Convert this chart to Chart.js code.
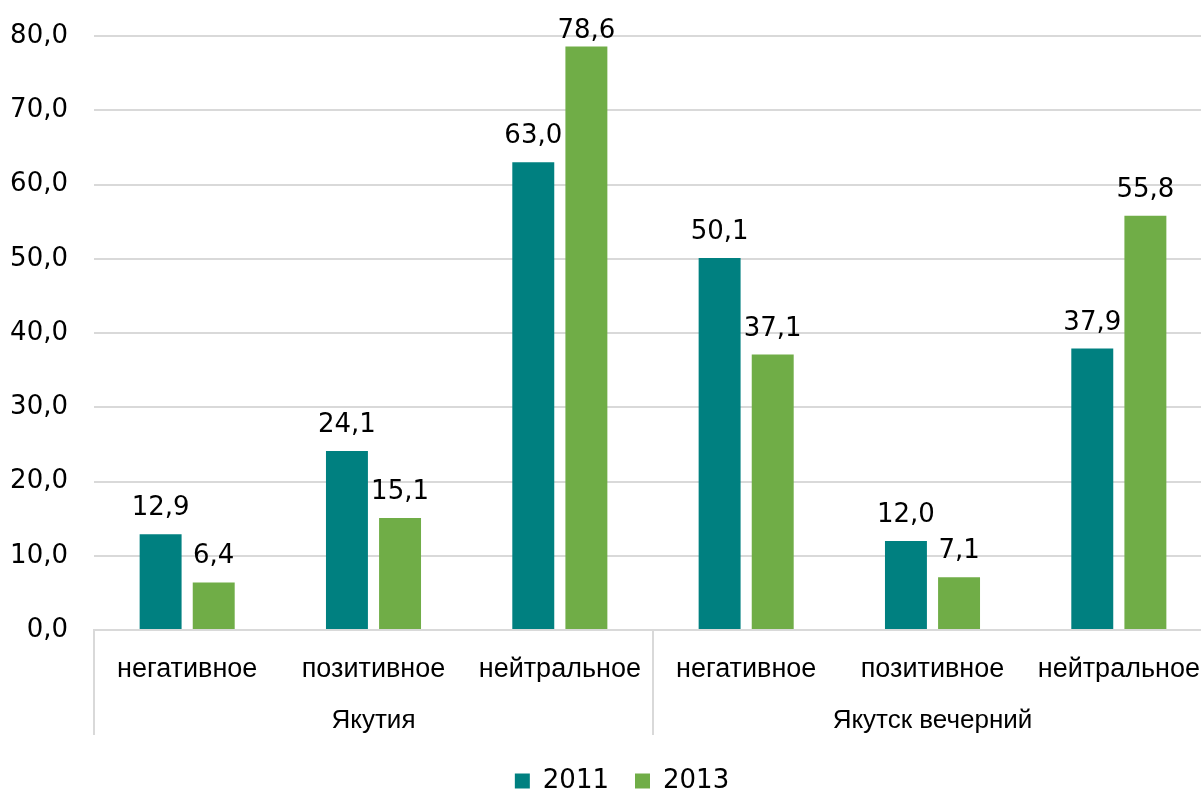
<!DOCTYPE html>
<html>
<head>
<meta charset="utf-8">
<script src="https://cdn.jsdelivr.net/npm/chart.js@4.4.0/dist/chart.umd.min.js"></script>
<style>
  html, body { margin: 0; padding: 0; background: #fff; overflow: hidden; }
  #wrap { width: 1201px; height: 791px; overflow: hidden; }
</style>
</head>
<body>
<div id="wrap"><canvas id="myBarChart" width="1212" height="804"></canvas></div>
<script>
var categories = ['негативное', 'позитивное', 'нейтральное', 'негативное', 'позитивное', 'нейтральное'];
var groups = ['Якутия', 'Якутск вечерний'];
var groupSize = 3;
var values2011 = [12.9, 24.1, 63.0, 50.1, 12.0, 37.9];
var values2013 = [6.4, 15.1, 78.6, 37.1, 7.1, 55.8];
var seriesNames = ['2011', '2013'];

var numFont = 'DejaVu Sans';
var catFont = 'Liberation Sans';
var gridColor = '#d9d9d9';

function fmt(v) {
    return v.toFixed(1).replace('.', ',');
}

function noPad(scale) {
    scale.paddingTop = 0;
    scale.paddingBottom = 0;
    scale.paddingLeft = 0;
    scale.paddingRight = 0;
}

// value labels over the bars (kept inside the plot at the top)
var barLabels = {
    id: 'barLabels',
    afterDatasetsDraw: function(chart) {
        var ctx = chart.ctx;
        ctx.save();
        ctx.font = '26px "' + numFont + '"';
        ctx.fillStyle = '#000';
        ctx.textAlign = 'center';
        ctx.textBaseline = 'alphabetic';
        chart.data.datasets.forEach(function(ds, i) {
            chart.getDatasetMeta(i).data.forEach(function(bar, j) {
                var y = Math.max(bar.y - 19, chart.chartArea.top + 2);
                ctx.fillText(fmt(ds.data[j]), bar.x, y);
            });
        });
        ctx.restore();
    }
};

// vertical separators between the groups
var groupLines = {
    id: 'groupLines',
    afterDraw: function(chart) {
        var x = chart.scales.x;
        var ctx = chart.ctx;
        ctx.save();
        ctx.strokeStyle = gridColor;
        ctx.lineWidth = 2;
        for (var g = 0; g <= groups.length; g++) {
            var px = Math.round(x.getPixelForValue(g * groupSize - 0.5));
            ctx.beginPath();
            ctx.moveTo(px, chart.chartArea.bottom);
            ctx.lineTo(px, chart.chartArea.bottom + 105);
            ctx.stroke();
        }
        ctx.restore();
    }
};

// legend sits a bit right of the canvas centre
var legendShift = {
    id: 'legendShift',
    afterLayout: function(chart) {
        chart.legend.left += 16;
        chart.legend.right += 16;
    }
};

var ctx = document.getElementById('myBarChart');
var myBarChart = new Chart(ctx, {
    type: 'bar',
    data: {
        labels: categories,
        datasets: [{
            label: seriesNames[0],
            data: values2011,
            backgroundColor: '#008080'
        }, {
            label: seriesNames[1],
            data: values2013,
            backgroundColor: '#70ad47'
        }]
    },
    options: {
        responsive: false,
        animation: false,
        categoryPercentage: 0.57,
        barPercentage: 0.79,
        layout: { padding: { top: 36, left: 0, right: 0, bottom: 0 } },
        plugins: {
            tooltip: { enabled: false },
            legend: {
                position: 'bottom',
                labels: {
                    boxWidth: 15,
                    boxHeight: 15,
                    padding: 26,
                    color: '#000',
                    font: { family: numFont, size: 26 }
                }
            }
        },
        scales: {
            x: {
                afterFit: function(scale) { scale.height = 52; noPad(scale); },
                grid: { display: false },
                border: { display: true, color: gridColor, width: 2 },
                ticks: {
                    color: '#000',
                    padding: 15,
                    maxRotation: 0,
                    autoSkip: false,
                    font: { family: catFont, size: 27 }
                }
            },
            x2: {
                type: 'category',
                labels: groups,
                offset: true,
                position: 'bottom',
                afterFit: function(scale) { scale.height = 60; noPad(scale); },
                grid: { display: false },
                border: { display: false },
                ticks: {
                    color: '#000',
                    padding: 15,
                    maxRotation: 0,
                    font: { family: catFont, size: 26 }
                }
            },
            y: {
                min: 0,
                max: 80,
                afterFit: function(scale) { scale.width = 94; noPad(scale); },
                grid: { color: gridColor, lineWidth: 2, drawTicks: false },
                border: { display: false },
                ticks: {
                    stepSize: 10,
                    padding: 26,
                    color: '#000',
                    font: { family: numFont, size: 26 },
                    callback: function(v) { return fmt(v); }
                }
            }
        }
    },
    plugins: [barLabels, groupLines, legendShift]
});
</script>
</body>
</html>
